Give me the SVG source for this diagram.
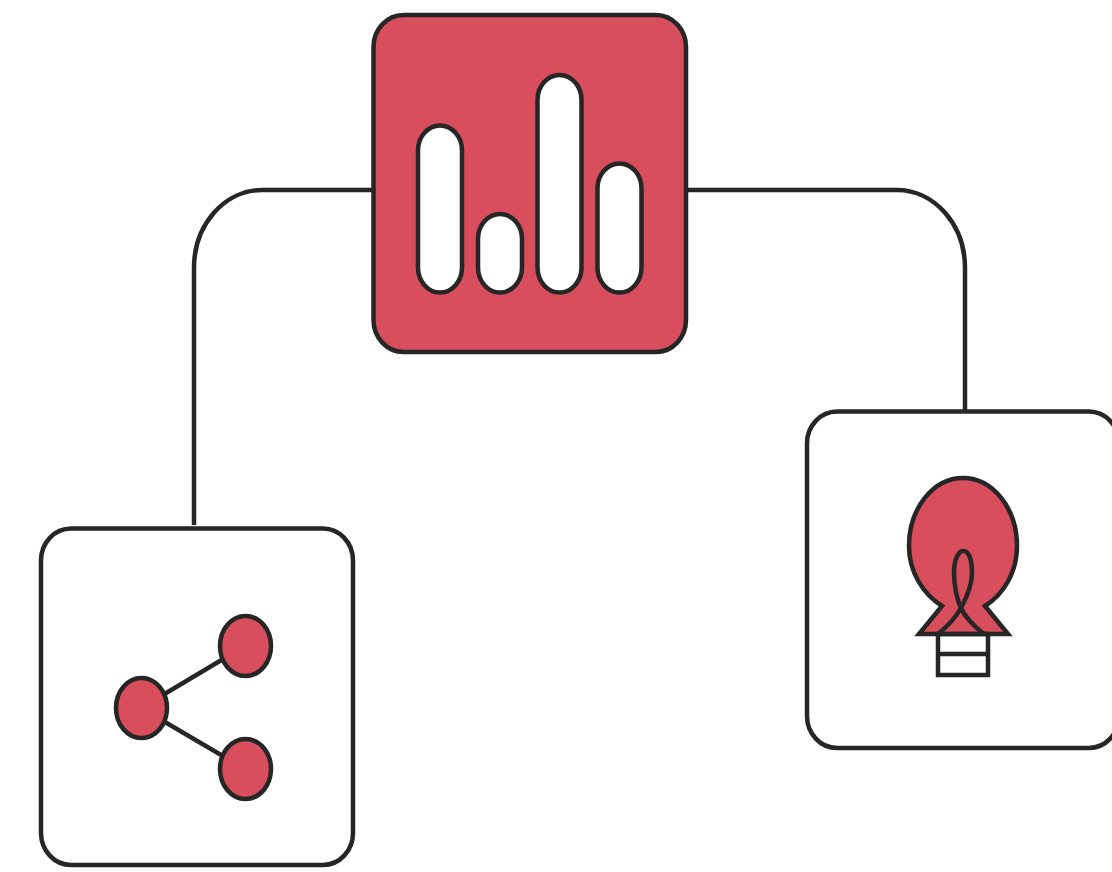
<svg xmlns="http://www.w3.org/2000/svg" width="1112" height="872" viewBox="0 0 1112 872">
<style>
.s{stroke:#262626;stroke-width:4.500;fill:none}
.w{stroke:#262626;stroke-width:4.500;fill:#fff}
.r{stroke:#262626;stroke-width:4.500;fill:#d94e5d}
</style>
<rect width="1112" height="872" fill="#fff"/>
<g id="connectors">
<path class="s" d="M373 190H262A68 78 0 0 0 194 268V525"/>
<path class="s" d="M687 190H897A68 78 0 0 1 965 268V411"/>
</g>
<g id="node-chart">
<rect class="r" x="373.500" y="15" width="312.500" height="337" rx="30" ry="32"/>
<rect class="w" x="418" y="125.500" width="44" height="167" rx="22" ry="25"/>
<rect class="w" x="478" y="214" width="44" height="78.500" rx="22" ry="25"/>
<rect class="w" x="537.500" y="75" width="44" height="217.500" rx="22" ry="25"/>
<rect class="w" x="597.500" y="163.500" width="44" height="129" rx="22" ry="25"/>
</g>
<g id="node-share">
<rect class="w" x="41" y="528.500" width="312" height="336.500" rx="30" ry="32"/>
<path class="s" d="M245 646L141 708L245 769"/>
<ellipse class="r" cx="245.500" cy="646" rx="25.500" ry="30"/>
<ellipse class="r" cx="141.500" cy="708" rx="25.500" ry="30"/>
<ellipse class="r" cx="245.500" cy="769" rx="25.500" ry="30"/>
</g>
<g id="node-bulb">
<rect class="w" x="807" y="411.500" width="312" height="336.500" rx="30" ry="32"/>
<path class="r" d="M942 606C923 594 909 572 909 546A54 68 0 0 1 1017 546C1017 572 1004 594 985 606L1008 634H919Z"/>
<path class="s" d="M938 634Q953 622 961 608C968 595 972 585 972 573C972 560 969 551 963.500 551C958 551 954 560 954 573C954 585 957 600 961 608C966 619 975 627 984 634"/>
<rect class="s" x="938" y="634" width="50" height="41"/>
<path class="s" d="M938 654H988"/>
</g>
</svg>
